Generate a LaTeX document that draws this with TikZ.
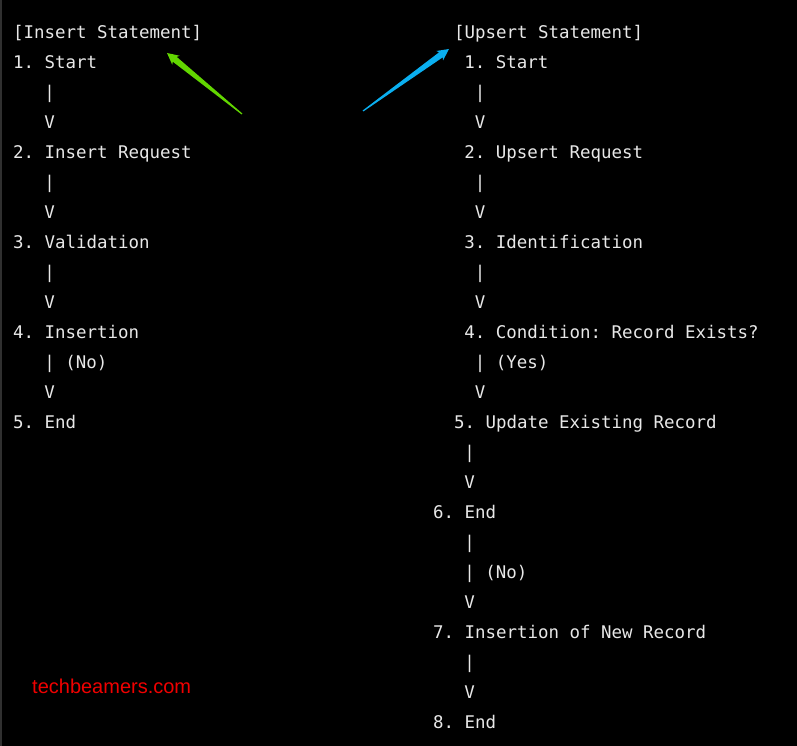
\documentclass[tikz,border=0pt]{standalone}
\usepackage{fontspec}
\usetikzlibrary{calc}
\newfontfamily\codefont{DejaVu Sans Mono}
\newfontfamily\wmfont{Liberation Sans}
\definecolor{txtgray}{HTML}{E8E8E8}
\definecolor{arrowgreen}{HTML}{62D600}
\definecolor{arrowblue}{HTML}{0AAFF0}
\definecolor{wmred}{HTML}{F00000}
\definecolor{edgegray}{HTML}{303030}
\newcommand\taperarrow[3]{%
  \fill[#3] ($(#1)!0.6pt!90:(#2)$) -- ($($(#2)!10pt!(#1)$)!3.1pt!90:(#2)$)
    -- ($($(#2)!11.5pt!(#1)$)!5.8pt!90:(#2)$) -- (#2)
    -- ($($(#2)!11.5pt!(#1)$)!5.8pt!-90:(#2)$)
    -- ($($(#2)!10pt!(#1)$)!3.1pt!-90:(#2)$) -- ($(#1)!0.6pt!-90:(#2)$) -- cycle;}
\begin{document}
\begin{tikzpicture}[x=1pt,y=1pt,
  code/.style={anchor=base west, inner sep=0pt, outer sep=0pt, text=txtgray,
    font=\codefont\fontsize{17.45pt}{20pt}\selectfont\frenchspacing},
  watermark/.style={anchor=base west, inner sep=0pt, text=wmred,
    font=\wmfont\fontsize{20pt}{24pt}\selectfont}]
\useasboundingbox (0,0) rectangle (797,746);
\fill[black] (0,0) rectangle (797,746);
\fill[edgegray] (0,0) rectangle (1.5,746);
% left column
\node[code] (l0) at (13,707.7) {[Insert Statement]};
\node[code] (l1) at (13,677.7) {1. Start};
\node[code] (l2) at (44.35,647.7) {|};
\node[code] (l3) at (44.35,617.7) {V};
\node[code] (l4) at (13,587.7) {2. Insert Request};
\node[code] (l5) at (44.35,557.7) {|};
\node[code] (l6) at (44.35,527.7) {V};
\node[code] (l7) at (13,497.7) {3. Validation};
\node[code] (l8) at (44.35,467.7) {|};
\node[code] (l9) at (44.35,437.7) {V};
\node[code] (l10) at (13,407.7) {4. Insertion};
\node[code] (l11) at (44.35,377.7) {| (No)};
\node[code] (l12) at (44.35,347.7) {V};
\node[code] (l13) at (13,317.7) {5. End};
% right column
\node[code] (r0) at (454,707.7) {[Upsert Statement]};
\node[code] (r1) at (464.45,677.7) {1. Start};
\node[code] (r2) at (474.9,647.7) {|};
\node[code] (r3) at (474.9,617.7) {V};
\node[code] (r4) at (464.45,587.7) {2. Upsert Request};
\node[code] (r5) at (474.9,557.7) {|};
\node[code] (r6) at (474.9,527.7) {V};
\node[code] (r7) at (464.45,497.7) {3. Identification};
\node[code] (r8) at (474.9,467.7) {|};
\node[code] (r9) at (474.9,437.7) {V};
\node[code] (r10) at (464.45,407.7) {4. Condition: Record Exists?};
\node[code] (r11) at (474.9,377.7) {| (Yes)};
\node[code] (r12) at (474.9,347.7) {V};
\node[code] (r13) at (454,317.7) {5. Update Existing Record};
\node[code] (r14) at (464.45,287.7) {|};
\node[code] (r15) at (464.45,257.7) {V};
\node[code] (r16) at (433.1,227.7) {6. End};
\node[code] (r17) at (464.45,197.7) {|};
\node[code] (r18) at (464.45,167.7) {| (No)};
\node[code] (r19) at (464.45,137.7) {V};
\node[code] (r20) at (433.1,107.7) {7. Insertion of New Record};
\node[code] (r21) at (464.45,77.7) {|};
\node[code] (r22) at (464.45,47.7) {V};
\node[code] (r23) at (433.1,17.7) {8. End};
% watermark
\node[watermark] (wm) at (32,52) {techbeamers.com};
% pointer arrows
\coordinate (gT) at (242,632);
\coordinate (gP) at (167,693);
\coordinate (bT) at (363,635);
\coordinate (bP) at (449,697);
\taperarrow{gT}{gP}{arrowgreen}
\taperarrow{bT}{bP}{arrowblue}
\end{tikzpicture}
\end{document}
